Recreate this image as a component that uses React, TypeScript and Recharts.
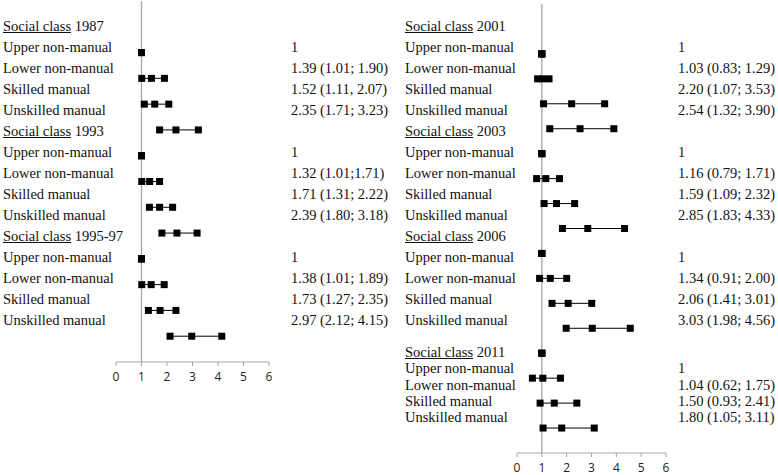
import { ScatterChart, Scatter, XAxis, YAxis, ReferenceLine } from 'recharts'

// row labels shared by every period
const classes = ['Upper non-manual', 'Lower non-manual', 'Skilled manual', 'Unskilled manual']
const xTicks = [0, 1, 2, 3, 4, 5, 6]

// odds ratios with 95% CI
const or1987 = [1, 1.39, 1.52, 2.35]
const lo1987 = [1, 1.01, 1.11, 1.71]
const hi1987 = [1, 1.9, 2.07, 3.23]
const txt1987 = ['1', '1.39 (1.01; 1.90)', '1.52 (1.11, 2.07)', '2.35 (1.71; 3.23)']

const or1993 = [1, 1.32, 1.71, 2.39]
const lo1993 = [1, 1.01, 1.31, 1.8]
const hi1993 = [1, 1.71, 2.22, 3.18]
const txt1993 = ['1', '1.32 (1.01;1.71)', '1.71 (1.31; 2.22)', '2.39 (1.80; 3.18)']

const or1995 = [1, 1.38, 1.73, 2.97]
const lo1995 = [1, 1.01, 1.27, 2.12]
const hi1995 = [1, 1.89, 2.35, 4.15]
const txt1995 = ['1', '1.38 (1.01; 1.89)', '1.73 (1.27; 2.35)', '2.97 (2.12; 4.15)']

const or2001 = [1, 1.03, 2.2, 2.54]
const lo2001 = [1, 0.83, 1.07, 1.32]
const hi2001 = [1, 1.29, 3.53, 3.9]
const txt2001 = ['1', '1.03 (0.83; 1.29)', '2.20 (1.07; 3.53)', '2.54 (1.32; 3.90)']

const or2003 = [1, 1.16, 1.59, 2.85]
const lo2003 = [1, 0.79, 1.09, 1.83]
const hi2003 = [1, 1.71, 2.32, 4.33]
const txt2003 = ['1', '1.16 (0.79; 1.71)', '1.59 (1.09; 2.32)', '2.85 (1.83; 4.33)']

const or2006 = [1, 1.34, 2.06, 3.03]
const lo2006 = [1, 0.91, 1.41, 1.98]
const hi2006 = [1, 2.0, 3.01, 4.56]
const txt2006 = ['1', '1.34 (0.91; 2.00)', '2.06 (1.41; 3.01)', '3.03 (1.98; 4.56)']

const or2011 = [1, 1.04, 1.5, 1.8]
const lo2011 = [1, 0.62, 0.93, 1.05]
const hi2011 = [1, 1.75, 2.41, 3.11]
const txt2011 = ['1', '1.04 (0.62; 1.75)', '1.50 (0.93; 2.41)', '1.80 (1.05; 3.11)']

const leftPeriods = [
  { year: '1987', or: or1987, lo: lo1987, hi: hi1987, txt: txt1987 },
  { year: '1993', or: or1993, lo: lo1993, hi: hi1993, txt: txt1993 },
  { year: '1995-97', or: or1995, lo: lo1995, hi: hi1995, txt: txt1995 },
]
const rightPeriods = [
  { year: '2001', or: or2001, lo: lo2001, hi: hi2001, txt: txt2001 },
  { year: '2003', or: or2003, lo: lo2003, hi: hi2003, txt: txt2003 },
  { year: '2006', or: or2006, lo: lo2006, hi: hi2006, txt: txt2006 },
  { year: '2011', or: or2011, lo: lo2011, hi: hi2011, txt: txt2011 },
]

const serif = '"Liberation Serif", "Times New Roman", serif'
const axisGrey = '#a6a6a6'

function Square(props: any) {
  const { cx, cy } = props
  if (cx == null || cy == null) return null
  return <rect x={cx - 3.5} y={cy - 3.5} width={7} height={7} fill="#000" />
}

type Period = { year: string; or: number[]; lo: number[]; hi: number[]; txt: string[] }

function ForestChart({ periods, left, margin }: { periods: Period[]; left: number; margin: any }) {
  const rows = periods.flatMap((p) => p.or.map((v, i) => ({ or: v, lo: p.lo[i], hi: p.hi[i] })))
  const n = rows.length
  return (
    <div style={{ position: 'absolute', left, top: 0 }}>
      <ScatterChart width={300} height={475} margin={margin}>
        <XAxis
          type="number"
          dataKey="x"
          domain={[0, 6]}
          ticks={xTicks}
          interval={0}
          height={20}
          tickSize={4}
          tickMargin={6}
          axisLine={{ stroke: axisGrey }}
          tickLine={{ stroke: axisGrey }}
          tick={{ fill: '#222', fontSize: 12, fontFamily: '"Open Sans", sans-serif' }}
        />
        <YAxis type="number" dataKey="y" domain={[0, n + 2]} hide />
        <ReferenceLine x={1} stroke={axisGrey} strokeWidth={1.3} ifOverflow="visible" />
        {rows.map((r, k) => (
          <Scatter
            key={k}
            data={[
              { x: r.lo, y: n - k },
              { x: r.or, y: n - k },
              { x: r.hi, y: n - k },
            ]}
            line={{ stroke: '#000', strokeWidth: 1 }}
            shape={Square}
            isAnimationActive={false}
          />
        ))}
      </ScatterChart>
    </div>
  )
}

function Labels({ periods, x, valueX, lineY }: { periods: Period[]; x: number; valueX: number; lineY: (i: number) => number }) {
  const lines: { label: any; value?: string }[] = []
  periods.forEach((p) => {
    lines.push({
      label: (
        <>
          <span style={{ textDecoration: 'underline' }}>Social class</span> {p.year}
        </>
      ),
    })
    classes.forEach((c, i) => lines.push({ label: c, value: p.txt[i] }))
  })
  const lh = 18
  return (
    <>
      {lines.map((l, i) => (
        <div key={i}>
          <div style={{ position: 'absolute', left: x, top: lineY(i) - lh / 2, lineHeight: `${lh}px`, whiteSpace: 'nowrap' }}>
            {l.label}
          </div>
          {l.value && (
            <div style={{ position: 'absolute', left: valueX, top: lineY(i) - lh / 2, lineHeight: `${lh}px`, whiteSpace: 'nowrap' }}>
              {l.value}
            </div>
          )}
        </div>
      ))}
    </>
  )
}

export default function App() {
  return (
    <div
      style={{
        position: 'absolute',
        left: 0,
        top: 0,
        width: 778,
        height: 475,
        background: '#fff',
        fontFamily: serif,
        fontSize: 14.5,
        color: '#111',
        overflow: 'hidden',
      }}
    >
      <ForestChart periods={leftPeriods} left={0} margin={{ top: 1, right: 31, bottom: 93, left: 116 }} />
      <ForestChart periods={rightPeriods} left={400} margin={{ top: 4, right: 34, bottom: 2, left: 117 }} />
      <Labels periods={leftPeriods} x={3} valueX={291} lineY={(i) => 26 + 21 * i} />
      <Labels
        periods={rightPeriods}
        x={405}
        valueX={678}
        lineY={(i) => (i < 15 ? 26 + 21 * i : 352 + 16.25 * (i - 15))}
      />
    </div>
  )
}
